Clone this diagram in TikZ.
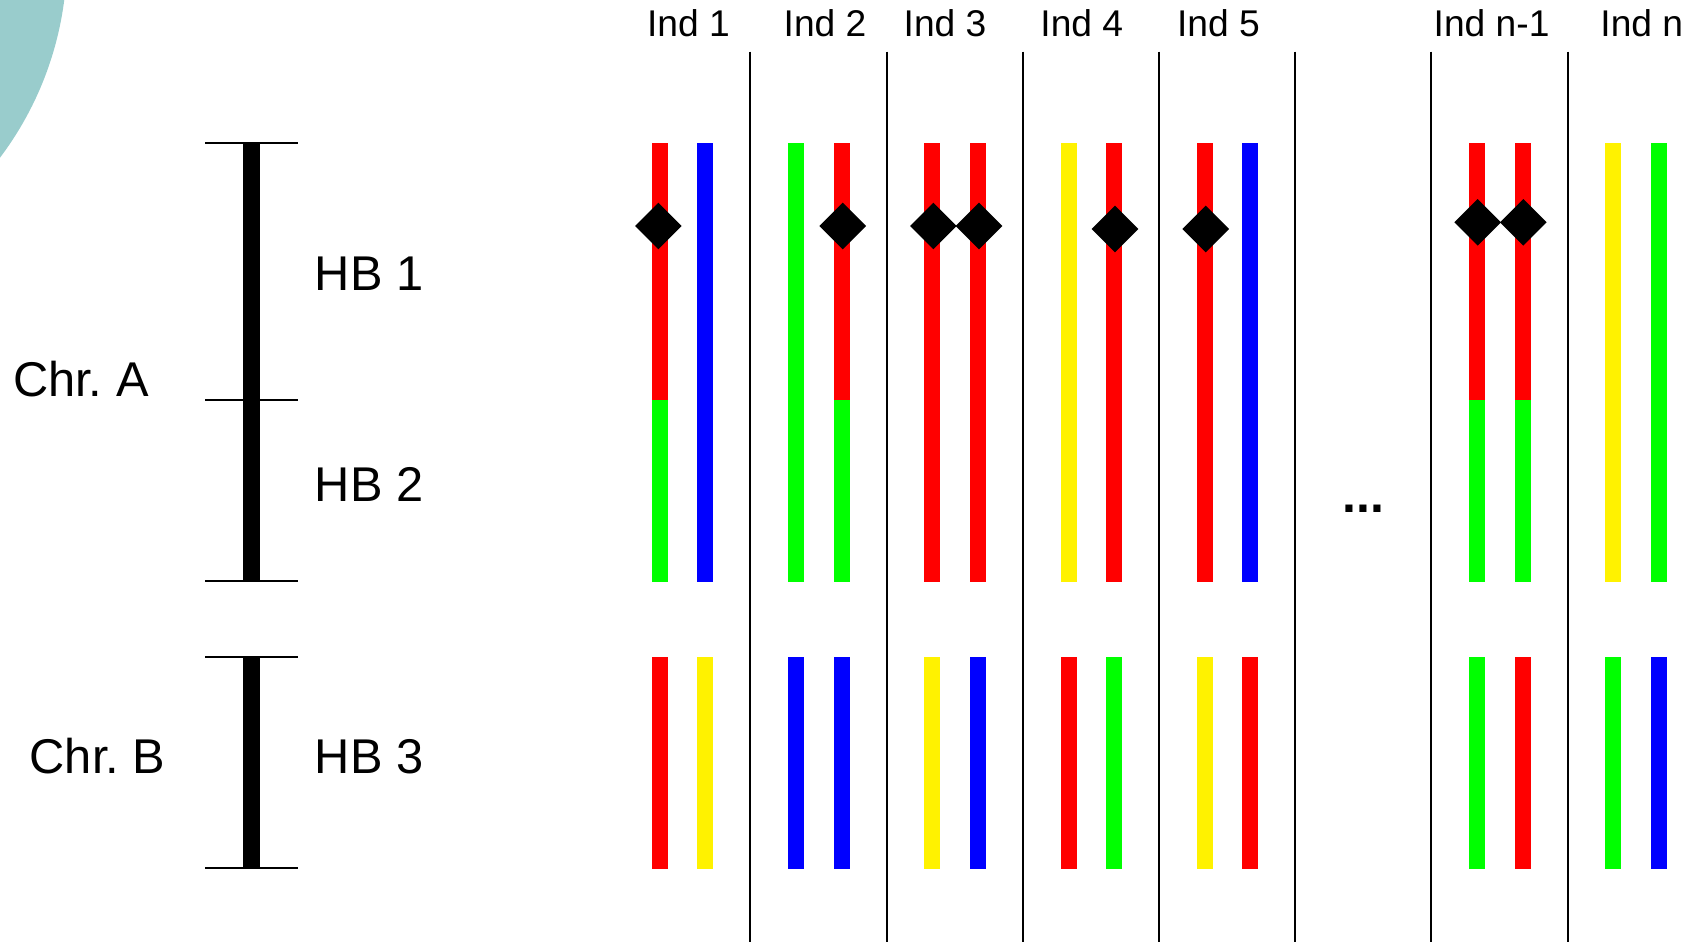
\documentclass[tikz,border=0pt]{standalone}
\usepackage{fontspec}
\setmainfont{Liberation Sans}
\definecolor{tealbg}{RGB}{153,204,204}
\frenchspacing
\begin{document}
\begin{tikzpicture}[x=0.5pt,y=-0.5pt,
  sepline/.style={line width=1pt, black},
  tickline/.style={line width=1pt, black},
  hbbar/.style={line width=8.65pt, black},
  indlab/.style={anchor=base west, inner sep=0pt, font=\fontsize{18.6}{20}\selectfont},
  biglab/.style={anchor=base west, inner sep=0pt, font=\fontsize{24.4}{26}\selectfont},
  snp/.style={fill=black}]
\useasboundingbox (0,0) rectangle (1696,942);
% background disc
\begin{scope}
\clip (0,0) rectangle (1696,942);
\fill[tealbg] (-267,-43) circle[radius=167pt];
\end{scope}
% separators
\foreach \j in {0,...,6}
  \draw[sepline] ({750.3+136.2*\j},51.7) -- ({750.3+136.2*\j},942);
% haplotype block scale
\draw[hbbar] (251.3,142.7) -- (251.3,581);
\draw[hbbar] (251.3,656.5) -- (251.3,867.5);
\foreach \yy in {142.7,400,581,656.5,867.5}
  \draw[tickline] (205,\yy) -- (297.7,\yy);
% labels
\node[biglab] (chra) at (12.6,396.7) {Chr.\ A};
\node[biglab] (chrb) at (29.3,773.3) {Chr.\ B};
\node[biglab] (hb1) at (314.5,290) {HB 1};
\node[biglab] (hb2) at (314.5,501.7) {HB 2};
\node[biglab] (hb3) at (314.5,773.3) {HB 3};
\node[indlab] (i1) at (646.6,36.7) {Ind 1};
\node[indlab] (i2) at (783.3,36.7) {Ind 2};
\node[indlab] (i3) at (903.3,36.7) {Ind 3};
\node[indlab] (i4) at (1040,36.7) {Ind 4};
\node[indlab] (i5) at (1176.6,36.7) {Ind 5};
\node[indlab] (in1) at (1433.3,36.7) {Ind n-1};
\node[indlab] (in) at (1600,36.7) {Ind n};
\node[anchor=base, inner sep=0pt, font=\bfseries\fontsize{25}{26}\selectfont] (dots) at (1363.7,512.5) {...};
% chromosomes
\foreach \k/\aa/\ab/\ba/\bb/\ca/\cb in {1/red/green/blue/blue/red/yellow,
  2/green/green/red/green/blue/blue, 3/red/red/red/red/yellow/blue,
  4/yellow/yellow/red/red/red/green, 5/red/red/blue/blue/yellow/red,
  7/red/green/red/green/green/red, 8/yellow/yellow/green/green/green/blue} {
  \pgfmathsetmacro\xa{660+136.2*(\k-1)}
  \pgfmathsetmacro\xb{\xa+45.3}
  \fill[\aa] (\xa-8,143.3) rectangle (\xa+8,400);
  \fill[\ab] (\xa-8,400) rectangle (\xa+8,581.7);
  \fill[\ba] (\xb-8,143.3) rectangle (\xb+8,400);
  \fill[\bb] (\xb-8,400) rectangle (\xb+8,581.7);
  \fill[\ca] (\xa-8,657.3) rectangle (\xa+8,869);
  \fill[\cb] (\xb-8,657.3) rectangle (\xb+8,869);
}
% SNP markers
\foreach \cx/\cy in {658.3/226, 842.7/226, 933.3/226, 979/226, 1115/229,
  1205.7/229, 1477.7/222.3, 1523.3/222.3}
  \fill[snp] (\cx,\cy-23.3) -- (\cx+23.3,\cy) -- (\cx,\cy+23.3) -- (\cx-23.3,\cy) -- cycle;
\end{tikzpicture}
\end{document}
